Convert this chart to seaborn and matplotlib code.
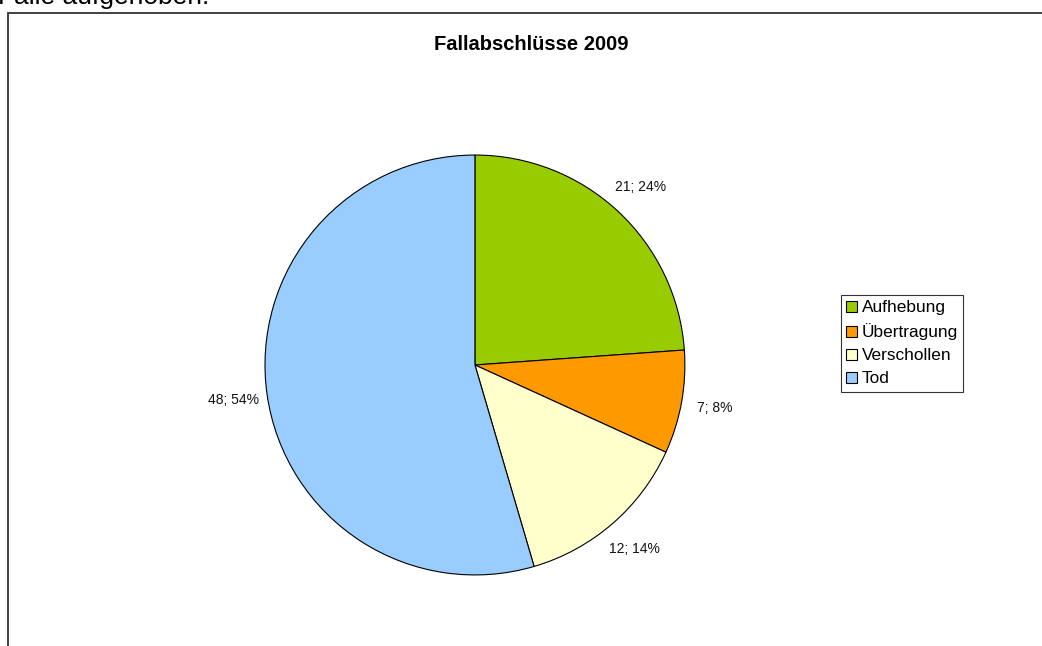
import matplotlib
matplotlib.use('Agg')
import matplotlib.pyplot as plt
import seaborn as sns
from matplotlib.patches import Rectangle

# Data
categories = ['Aufhebung', 'Übertragung', 'Verschollen', 'Tod']
counts = [21, 7, 12, 48]
percent_labels = [24, 8, 14, 54]
colors = ['#99CC00', '#FF9900', '#FFFFCC', '#99CCFF']
title = 'Fallabschlüsse 2009'

sns.set_theme(style='white')
plt.rcParams['font.family'] = ['Liberation Sans', 'DejaVu Sans']
plt.rcParams['text.color'] = 'black'

fig = plt.figure(figsize=(10.42, 6.46), dpi=100)

# clipped line of body text above the chart
fig.text(-0.002, 1 - 4 / 646, 'Fälle aufgehoben.', fontsize=19, va='baseline', ha='left')

# chart frame
fig.patches.append(Rectangle((8 / 1042, -0.1), 1.2, 1.1 - 13 / 646,
                             transform=fig.transFigure, fill=False,
                             edgecolor='#333333', linewidth=1.3))

ax = fig.add_axes([0.2543, 0.110, 0.403, 0.650])
labels = [f'{c}; {p}%' for c, p in zip(counts, percent_labels)]
wedges, texts = ax.pie(counts, colors=colors, startangle=90, counterclock=False,
                       labels=labels, labeldistance=1.16,
                       wedgeprops=dict(edgecolor='black', linewidth=0.8),
                       textprops=dict(fontsize=10, color='#111111'))
for t in texts:
    t.set_ha('center')
    t.set_va('center')
ax.set_xlim(-1, 1)
ax.set_ylim(-1, 1)
ax.set_aspect('equal')

fig.text(531 / 1042, 1 - 45 / 646, title, fontsize=14.5, fontweight='bold',
         ha='center', va='center')

leg = fig.legend(wedges, categories, loc='upper left',
                 bbox_to_anchor=(841 / 1042, 1 - 295 / 646),
                 fontsize=12.4, frameon=True, fancybox=False, shadow=False,
                 handlelength=0.6, handleheight=0.6, handletextpad=0.3,
                 labelspacing=0.47, borderpad=0.3, borderaxespad=0)
leg.get_frame().set_edgecolor('black')
leg.get_frame().set_linewidth(0.8)
for h in leg.legend_handles:
    h.set_edgecolor('black')
    h.set_linewidth(0.8)

fig.savefig('out.png', dpi=100)
